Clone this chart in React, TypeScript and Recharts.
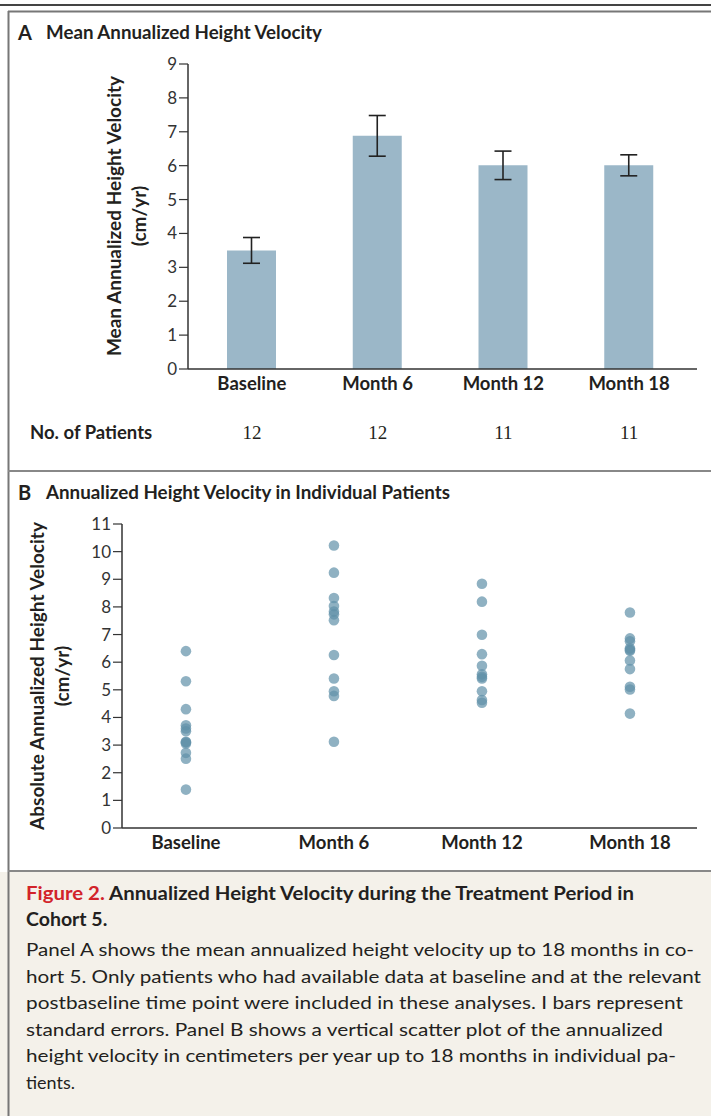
import React from "react";
import { BarChart, Bar, ErrorBar, XAxis, YAxis, ScatterChart, Scatter } from "recharts";

const timePoints = ["Baseline", "Month 6", "Month 12", "Month 18"];
const meanVelocity = [3.5, 6.88, 6.01, 6.01];
const standardError = [0.38, 0.6, 0.42, 0.31];
const patientCounts = [12, 12, 11, 11];
const meanTicks = [0, 1, 2, 3, 4, 5, 6, 7, 8, 9];

const baselineHV = [6.4, 5.31, 4.3, 3.72, 3.6, 3.5, 3.12, 3.06, 3.1, 2.72, 2.51, 1.39];
const month6HV = [10.22, 9.24, 8.32, 8.03, 7.83, 7.73, 7.52, 6.26, 5.41, 4.95, 4.78, 3.12];
const month12HV = [8.84, 8.19, 6.99, 6.29, 5.87, 5.56, 5.47, 5.41, 4.95, 4.63, 4.53];
const month18HV = [7.8, 6.86, 6.76, 6.5, 6.45, 6.41, 6.06, 5.75, 5.11, 5.01, 4.14];
const individualTicks = [0, 1, 2, 3, 4, 5, 6, 7, 8, 9, 10, 11];

const FONT = "Lato, 'Open Sans', sans-serif";
const INK = "#231f20";
const AXIS = "#333";

const barData = timePoints.map((t, i) => ({
  name: t,
  mean: meanVelocity[i],
  se: standardError[i],
  n: patientCounts[i],
}));

const scatterData = [baselineHV, month6HV, month12HV, month18HV].flatMap((vals, i) =>
  vals.map((v) => ({ x: i, y: v }))
);

// category label + patient count under panel A
function BarTick({ x, y, index }: any) {
  return (
    <g>
      <text x={x} y={y + 21} textAnchor="middle" fontFamily={FONT} fontWeight={700} fontSize={18.5} fill={INK}>
        {timePoints[index]}
      </text>
      <text x={x} y={y + 70} textAnchor="middle" fontFamily="'Liberation Serif', serif" fontSize={19} fill={INK}>
        {patientCounts[index]}
      </text>
    </g>
  );
}

function ScatterTick({ x, y, payload }: any) {
  return (
    <text x={x} y={y + 21} textAnchor="middle" fontFamily={FONT} fontWeight={700} fontSize={18.5} fill={INK}>
      {timePoints[payload.value]}
    </text>
  );
}

const Dot = (props: any) => (
  <circle cx={props.cx} cy={props.cy} r={5.3} fill="#5f90a8" fillOpacity={0.7} />
);

const yTickStyle = { fontFamily: FONT, fontSize: 17, fill: AXIS };

const captionLines = [
  { text: "Panel A shows the mean annualized height velocity up to 18 months in co-", len: 668 },
  { text: "hort 5. Only patients who had available data at baseline and at the relevant", len: 675 },
  { text: "postbaseline time point were included in these analyses. I bars represent", len: 657 },
  { text: "standard errors. Panel B shows a vertical scatter plot of the annualized", len: 637 },
  { text: "height velocity in centimeters per year up to 18 months in individual pa-", len: 650 },
  { text: "tients.", len: 0 },
];

export default function App() {
  return (
    <div style={{ position: "absolute", left: 0, top: 0, width: 711, height: 1116, background: "#fff", overflow: "hidden" }}>
      <svg width={711} height={1116} style={{ position: "absolute", left: 0, top: 0 }}>
        <rect x={0} y={872} width={711} height={244} fill="#f4f1ea" />
        <line x1={0} y1={5} x2={711} y2={5} stroke="#444" strokeWidth={2} />
        <line x1={8} y1={11.5} x2={711} y2={11.5} stroke="#777" strokeWidth={2} />
        <line x1={8.5} y1={11} x2={8.5} y2={1116} stroke="#777" strokeWidth={2} />
        <line x1={8} y1={471} x2={711} y2={471} stroke="#888" strokeWidth={2} />
        <line x1={8} y1={871} x2={711} y2={871} stroke="#888" strokeWidth={2} />

        <text x={18} y={40} fontFamily={FONT} fontWeight={700} fontSize={20} fill={INK}>A</text>
        <text x={46} y={39} fontFamily={FONT} fontWeight={700} fontSize={18.7} fill={INK} textLength={276} lengthAdjust="spacingAndGlyphs">
          Mean Annualized Height Velocity
        </text>
        <text x={18} y={500} fontFamily={FONT} fontWeight={700} fontSize={20} fill={INK}>B</text>
        <text x={46} y={499} fontFamily={FONT} fontWeight={700} fontSize={18.8} fill={INK} textLength={404} lengthAdjust="spacingAndGlyphs">
          Annualized Height Velocity in Individual Patients
        </text>

        <g transform="translate(121,216) rotate(-90)">
          <text x={0} y={0} textAnchor="middle" fontFamily={FONT} fontWeight={700} fontSize={19} fill={INK}>Mean Annualized Height Velocity</text>
          <text x={0} y={25} textAnchor="middle" fontFamily={FONT} fontWeight={700} fontSize={19} fill={INK}>(cm/yr)</text>
        </g>
        <g transform="translate(44,676) rotate(-90)">
          <text x={0} y={0} textAnchor="middle" fontFamily={FONT} fontWeight={700} fontSize={19} fill={INK}>Absolute Annualized Height Velocity</text>
          <text x={0} y={25} textAnchor="middle" fontFamily={FONT} fontWeight={700} fontSize={19} fill={INK}>(cm/yr)</text>
        </g>

        <text x={30} y={439} fontFamily={FONT} fontWeight={700} fontSize={18.5} fill={INK}>No. of Patients</text>

        <text x={26} y={900} fontFamily={FONT} fontWeight={700} fontSize={19} fill={INK} textLength={608} lengthAdjust="spacingAndGlyphs">
          <tspan fill="#d2232a">Figure 2.</tspan> Annualized Height Velocity during the Treatment Period in
        </text>
        <text x={26} y={926} fontFamily={FONT} fontWeight={700} fontSize={19.5} fill={INK}>Cohort 5.</text>
        {captionLines.map((l, i) => (
          <text
            key={i}
            x={26}
            y={956 + i * 26.6}
            fontFamily={FONT}
            fontSize={18}
            fill={INK}
            {...(l.len ? { textLength: l.len, lengthAdjust: "spacingAndGlyphs" } : {})}
          >
            {l.text}
          </text>
        ))}
      </svg>

      <div style={{ position: "absolute", left: 0, top: 0 }}>
        <BarChart width={711} height={460} data={barData} margin={{ top: 64, right: 14, bottom: 61, left: 128 }} barSize={49}>
          <XAxis
            dataKey="name"
            interval={0}
            tickLine={false}
            tickSize={0}
            tickMargin={0}
            height={30}
            padding={{ left: 1, right: 5 }}
            axisLine={{ stroke: AXIS, strokeWidth: 1.5 }}
            tick={<BarTick />}
          />
          <YAxis
            width={60}
            domain={[0, 9]}
            ticks={meanTicks}
            interval={0}
            tickSize={9}
            tickMargin={2}
            axisLine={{ stroke: AXIS, strokeWidth: 1.5 }}
            tickLine={{ stroke: AXIS, strokeWidth: 1.2 }}
            tick={yTickStyle}
          />
          <Bar dataKey="mean" fill="#9bb7c8" isAnimationActive={false}>
            <ErrorBar dataKey="se" width={8.5} stroke="#222" strokeWidth={1.6} isAnimationActive={false} />
          </Bar>
        </BarChart>
      </div>

      <div style={{ position: "absolute", left: 0, top: 480 }}>
        <ScatterChart width={711} height={400} margin={{ top: 44, right: 14, bottom: 22, left: 62 }}>
          <XAxis
            type="number"
            dataKey="x"
            domain={[-0.432, 3.453]}
            ticks={[0, 1, 2, 3]}
            interval={0}
            tickLine={false}
            tickSize={0}
            tickMargin={0}
            height={30}
            axisLine={{ stroke: AXIS, strokeWidth: 1.5 }}
            tick={<ScatterTick />}
          />
          <YAxis
            type="number"
            dataKey="y"
            width={60}
            domain={[0, 11]}
            ticks={individualTicks}
            interval={0}
            tickSize={9}
            tickMargin={2}
            axisLine={{ stroke: AXIS, strokeWidth: 1.5 }}
            tickLine={{ stroke: AXIS, strokeWidth: 1.2 }}
            tick={yTickStyle}
          />
          <Scatter data={scatterData} shape={Dot} isAnimationActive={false} />
        </ScatterChart>
      </div>
    </div>
  );
}
